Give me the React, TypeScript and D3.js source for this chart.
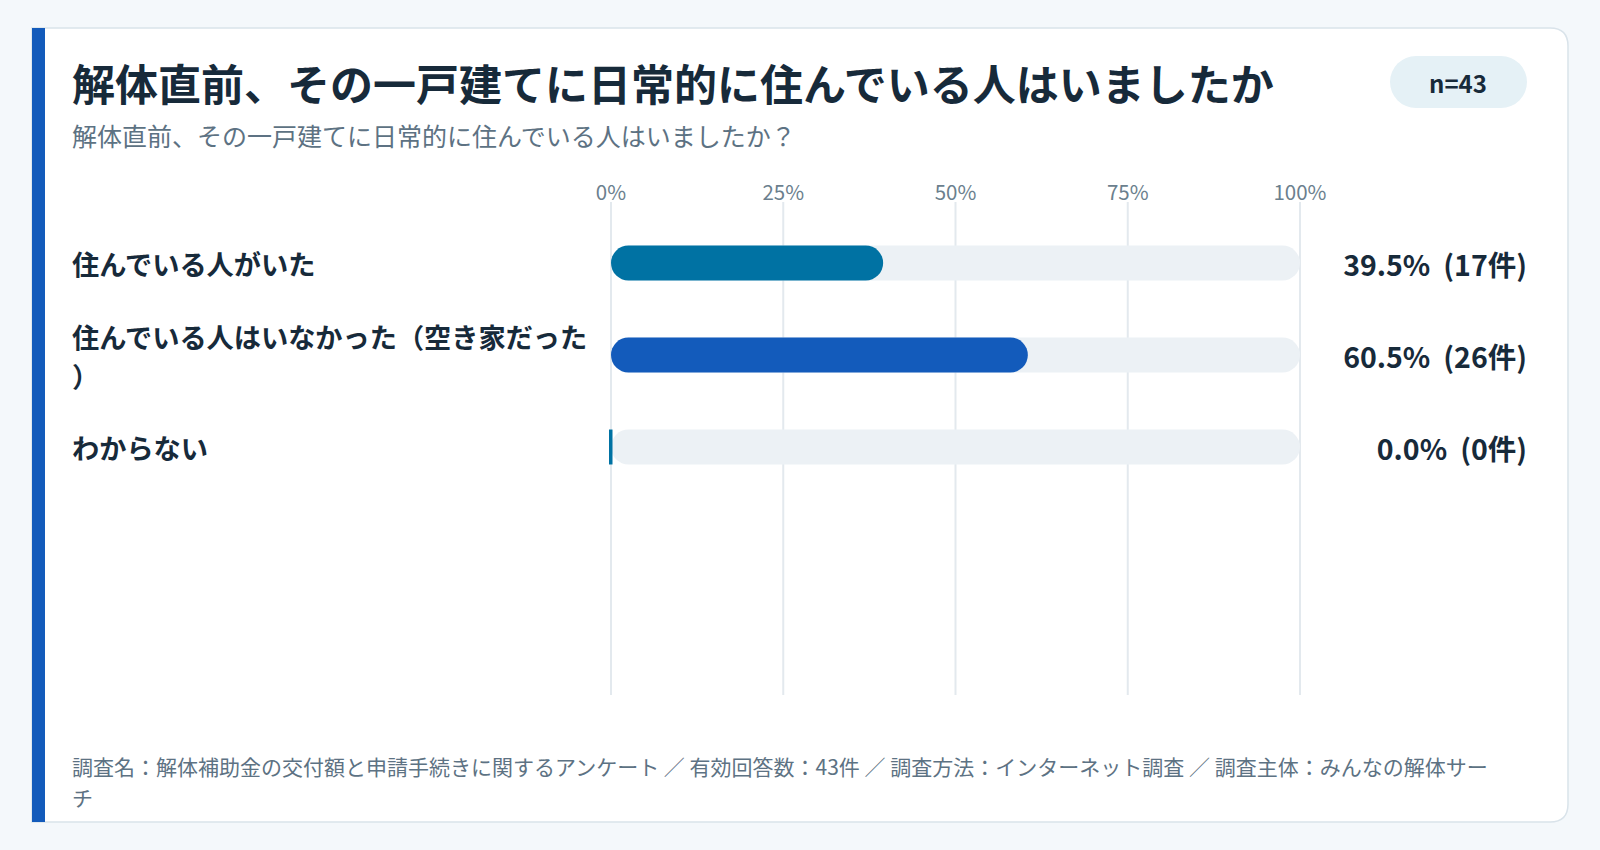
import React, { useEffect, useRef } from "react";
import { scaleBand, scaleLinear, select } from "d3";

const categories = [
  "住んでいる人がいた",
  "住んでいる人はいなかった（空き家だった）",
  "わからない",
];
const percents = [39.5, 60.5, 0.0];
const counts = [17, 26, 0];
const tickValues = [0, 25, 50, 75, 100];

const title = "解体直前、その一戸建てに日常的に住んでいる人はいましたか";
const subtitle = "解体直前、その一戸建てに日常的に住んでいる人はいましたか？";
const sampleLabel = "n=43";
const footnote =
  "調査名：解体補助金の交付額と申請手続きに関するアンケート ／ 有効回答数：43件 ／ 調査方法：インターネット調査 ／ 調査主体：みんなの解体サーチ";

const barColors = ["#0072a3", "#135bbb"];
const FONT = "'Noto Sans CJK JP', 'Noto Sans', sans-serif";

// break a string into lines by characters so it fits maxWidth
function wrapLines(textEl: any, str: string, maxWidth: number): string[] {
  const lines: string[] = [];
  let line = "";
  for (const ch of Array.from(str)) {
    textEl.text(line + ch);
    if (line && textEl.node().getComputedTextLength() > maxWidth) {
      lines.push(line);
      line = ch;
    } else {
      line += ch;
    }
  }
  if (line) lines.push(line);
  textEl.text(null);
  return lines;
}

export default function App() {
  const svgRef = useRef<SVGSVGElement>(null);
  const W = 1600;
  const H = 850;

  useEffect(() => {
    const svg = select(svgRef.current);
    svg.selectAll("*").remove();

    // page + card
    svg.append("rect").attr("width", W).attr("height", H).attr("fill", "#f4f8fb");
    const cx0 = 32, cy0 = 28, cx1 = 1568, cy1 = 822, r = 18;
    svg
      .append("path")
      .attr(
        "d",
        `M${cx0},${cy0} H${cx1 - r} Q${cx1},${cy0} ${cx1},${cy0 + r} V${cy1 - r} Q${cx1},${cy1} ${cx1 - r},${cy1} H${cx0} Z`
      )
      .attr("fill", "#ffffff")
      .attr("stroke", "#d9e3ea")
      .attr("stroke-width", 1.5);
    svg
      .append("rect")
      .attr("x", cx0)
      .attr("y", cy0)
      .attr("width", 13)
      .attr("height", cy1 - cy0)
      .attr("fill", "#135bbb");

    // header
    svg
      .append("text")
      .attr("x", 72)
      .attr("y", 101)
      .attr("font-family", FONT)
      .attr("font-size", 43)
      .attr("font-weight", 700)
      .attr("fill", "#172a3a")
      .text(title);
    svg
      .append("text")
      .attr("x", 72)
      .attr("y", 146)
      .attr("font-family", FONT)
      .attr("font-size", 25)
      .attr("fill", "#5d7283")
      .text(subtitle);

    svg
      .append("rect")
      .attr("x", 1390)
      .attr("y", 56)
      .attr("width", 137)
      .attr("height", 52)
      .attr("rx", 26)
      .attr("fill", "#e5f1f6");
    svg
      .append("text")
      .attr("x", 1458)
      .attr("y", 82)
      .attr("text-anchor", "middle")
      .attr("dominant-baseline", "central")
      .attr("font-family", FONT)
      .attr("font-size", 24)
      .attr("font-weight", 700)
      .attr("fill", "#172a3a")
      .text(sampleLabel);

    // scales
    const x = scaleLinear().domain([0, 100]).range([611, 1300]);
    const y = scaleBand<string>()
      .domain(categories)
      .range([217, 493])
      .paddingInner(0.62)
      .paddingOuter(0.31);
    const bh = y.bandwidth();

    // grid + ticks
    const grid = svg.append("g");
    grid
      .selectAll("line")
      .data(tickValues)
      .enter()
      .append("line")
      .attr("x1", (d) => x(d))
      .attr("x2", (d) => x(d))
      .attr("y1", 202)
      .attr("y2", 695)
      .attr("stroke", "#e3e9ee")
      .attr("stroke-width", 2);
    grid
      .selectAll("text")
      .data(tickValues)
      .enter()
      .append("text")
      .attr("x", (d) => x(d))
      .attr("y", 200)
      .attr("text-anchor", "middle")
      .attr("font-family", FONT)
      .attr("font-size", 20.5)
      .attr("fill", "#6b7f8e")
      .text((d) => `${d}%`);

    // rows
    const rows = svg
      .append("g")
      .selectAll("g")
      .data(categories)
      .enter()
      .append("g");

    rows
      .append("rect")
      .attr("x", x(0))
      .attr("y", (d) => y(d)!)
      .attr("width", x(100) - x(0))
      .attr("height", bh)
      .attr("rx", bh / 2)
      .attr("fill", "#ecf1f5");

    rows
      .append("rect")
      .attr("x", (d, i) => (percents[i] > 0 ? x(0) : x(0) - 2))
      .attr("y", (d) => y(d)!)
      .attr("width", (d, i) => Math.max(x(percents[i]) - x(0), 3.5))
      .attr("height", bh)
      .attr("rx", (d, i) => Math.min(bh / 2, (x(percents[i]) - x(0)) / 2))
      .attr("fill", (d, i) => barColors[i % barColors.length]);

    const val = rows
      .append("text")
      .attr("x", 1527)
      .attr("y", (d) => y(d)! + bh / 2)
      .attr("text-anchor", "end")
      .attr("dominant-baseline", "central")
      .attr("font-family", FONT)
      .attr("font-size", 28.5)
      .attr("font-weight", 700)
      .attr("fill", "#172a3a");
    val.append("tspan").text((d, i) => `${percents[i].toFixed(1)}%`);
    val
      .append("tspan")
      .attr("dx", 13)
      .text((d, i) => `(${counts[i]}件)`);

    // category labels, wrapped
    rows.each(function (d) {
      const t = select(this)
        .append("text")
        .attr("x", 72)
        .attr("font-family", FONT)
        .attr("font-size", 27.2)
        .attr("font-weight", 700)
        .attr("fill", "#172a3a")
        .attr("dominant-baseline", "central");
      const lines = wrapLines(t, d, 535);
      const lh = 39;
      const top = y(d)! + bh / 2 - ((lines.length - 1) * lh) / 2;
      lines.forEach((ln, k) => {
        t.append("tspan").attr("x", 72).attr("y", top + k * lh).text(ln);
      });
    });

    // footnote
    const foot = svg
      .append("text")
      .attr("font-family", FONT)
      .attr("font-size", 21)
      .attr("fill", "#5d7283")
      .attr("dominant-baseline", "central");
    const fl = wrapLines(foot, footnote, 1425);
    fl.forEach((ln, k) => {
      foot.append("tspan").attr("x", 72).attr("y", 766 + k * 31).text(ln);
    });
  }, []);

  return (
    <svg
      ref={svgRef}
      width={W}
      height={H}
      style={{ position: "absolute", left: 0, top: 0, display: "block" }}
    />
  );
}
